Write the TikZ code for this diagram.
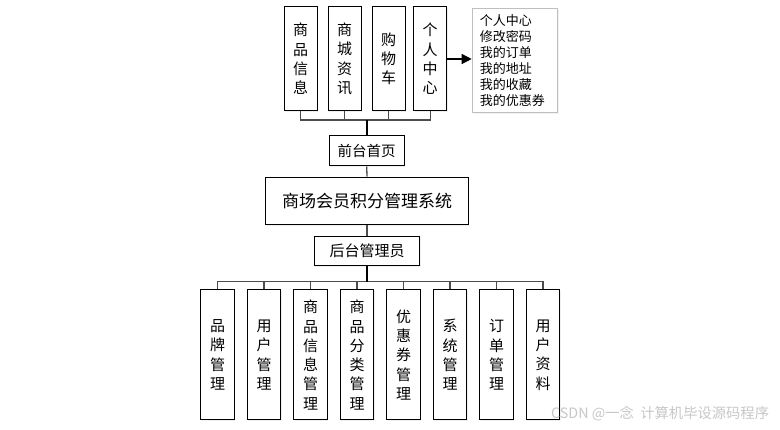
\documentclass[tikz,border=0pt]{standalone}
\usepackage{fontspec}
\setmainfont{Noto Sans CJK SC}
\newfontfamily\cjk{Noto Sans CJK SC}
\usetikzlibrary{arrows.meta,shadows}
\begin{document}
\begin{tikzpicture}[x=1pt,y=-1pt,
  vbox/.style={draw=black,line width=1pt,fill=white,inner sep=0pt,align=center,
    minimum width=33pt,font=\cjk\fontsize{15}{19.3}\selectfont,
    drop shadow={shadow xshift=1pt,shadow yshift=-1pt,fill=black!12}},
  hbox/.style={draw=black,line width=1pt,fill=white,inner sep=0pt,
    font=\cjk\fontsize{15}{18}\selectfont,
    drop shadow={shadow xshift=1pt,shadow yshift=-1pt,fill=black!12}},
  conn/.style={draw=black!70,line width=1.3pt},
  stem/.style={draw=black,line width=2pt}]
\useasboundingbox (0,0) rectangle (780,430);
% top boxes
\node[vbox,minimum height=104pt] (t1) at (300.5,59) {商\\品\\信\\息};
\node[vbox,minimum height=104pt] (t2) at (344.5,59) {商\\城\\资\\讯};
\node[vbox,minimum height=104pt] (t3) at (388.5,59) {购\\物\\车};
\node[vbox,minimum height=104pt] (t4) at (430.2,59) {个\\人\\中\\心};
% side box
\node[draw=black!25,line width=1pt,fill=white,anchor=north west,text width=70pt,
  inner xsep=7.6pt,inner ysep=0pt,minimum height=103.4pt,align=left,
  font=\cjk\fontsize{13}{16.1}\selectfont,
  drop shadow={shadow xshift=1.5pt,shadow yshift=-1.5pt,fill=black!10}]
  (side) at (471.7,8.3) {个人中心\\修改密码\\我的订单\\我的地址\\我的收藏\\我的优惠券};
\draw[black,line width=1.3pt,-{Triangle[length=10pt,width=10pt]}] (t4.east) -- (t4.east -| side.west);
% middle
\node[hbox,minimum width=74.7pt,minimum height=30pt,font=\cjk\fontsize{14.5}{18}\selectfont] (fp) at (366.7,151) {前台首页};
\node[hbox,minimum width=202.6pt,minimum height=47.7pt,font=\cjk\fontsize{17}{20}\selectfont] (sys) at (367,201) {商场会员积分管理系统};
\node[hbox,minimum width=105.7pt,minimum height=29.7pt] (adm) at (367,251) {后台管理员};
% top connectors
\coordinate (topbus) at (366.7,120);
\draw[conn] (t1.south) |- (topbus) -| (t4.south);
\draw[conn] (t2.south) -- (t2.south |- topbus);
\draw[conn] (t3.south) -- (t3.south |- topbus);
\draw[stem] (topbus) -- (fp.north);
\draw[conn] (fp.south) -- (sys.north);
\draw[conn] (sys.south) -- (adm.north);
% bottom boxes
\foreach \i/\t in {1/品\\牌\\管\\理,2/用\\户\\管\\理,3/商\\品\\信\\息\\管\\理,4/商\\品\\分\\类\\管\\理,5/优\\惠\\券\\管\\理,6/系\\统\\管\\理,7/订\\单\\管\\理,8/用\\户\\资\\料}{
  \node[vbox,minimum width=33.5pt,minimum height=130pt] (b\i) at ({217.5+46.5*(\i-1)},355) {\t};
}
\coordinate (botbus) at (367,281.7);
\draw[conn] (b1.north) |- (botbus) -| (b8.north);
\foreach \i in {2,...,7}{\draw[conn] (b\i.north) -- (b\i.north |- botbus);}
\draw[stem] (adm.south) -- (adm.south |- botbus);
% watermark
\node[anchor=west,inner sep=0pt,text=black!22,font=\cjk\fontsize{14.3}{16}\selectfont] (wm) at (551,414) {CSDN @一念\ \ 计算机毕设源码程序};
\end{tikzpicture}
\end{document}
